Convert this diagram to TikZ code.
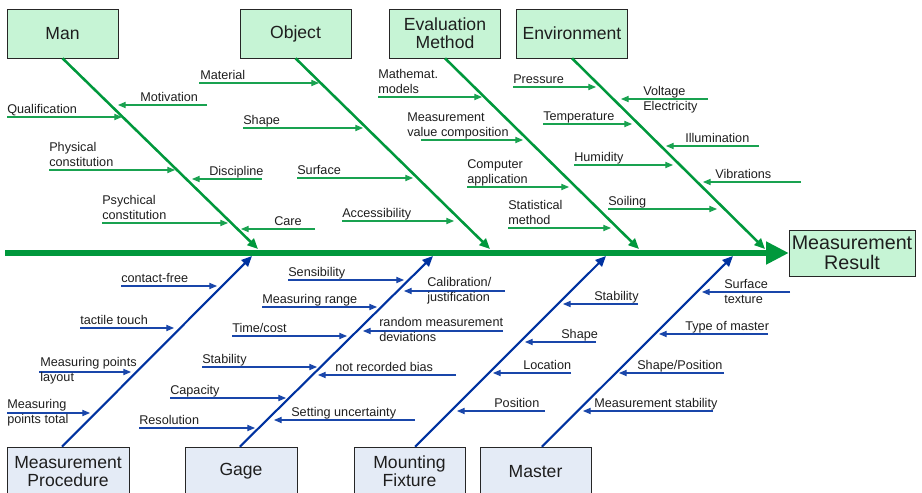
\documentclass[tikz,border=0pt]{standalone}
\usepackage{fontspec}
\setmainfont{Liberation Sans}
\usetikzlibrary{arrows.meta}

\definecolor{fishgreen}{RGB}{0,152,60}
\definecolor{fishblue}{RGB}{0,50,160}
\definecolor{topfill}{RGB}{198,244,213}
\definecolor{botfill}{RGB}{228,235,246}
\definecolor{txt}{RGB}{30,30,30}

\tikzset{
  topbox/.style={draw=black!85, fill=topfill, minimum width=2.775cm, minimum height=1.225cm,
    inner sep=1pt, align=center, text=txt, font=\fontsize{12.5}{12.8}\selectfont},
  botbox/.style={draw=black!85, fill=botfill, minimum width=2.775cm, minimum height=1.225cm,
    inner sep=1pt, align=center, text=txt, font=\fontsize{12.5}{12.8}\selectfont},
  spine/.style={fishgreen, line width=3.6pt, -{Triangle[length=16pt,width=15.5pt]}},
  gbone/.style={fishgreen, line width=1.8pt, -{Triangle[length=7.5pt,width=6.5pt]}},
  bbone/.style={fishblue, line width=1.5pt, -{Triangle[length=7.5pt,width=6.5pt]}},
  garr/.style={fishgreen!90!white, line width=0.75pt, -{Triangle[length=5.5pt,width=4.5pt]}},
  barr/.style={fishblue!90!white, line width=0.75pt, -{Triangle[length=5.5pt,width=4.5pt]}},
  lbl/.style={anchor=base west, inner sep=0pt, align=left, text=txt, font=\fontsize{9}{10.6}\selectfont}
}

\begin{document}
\begin{tikzpicture}[x=0.025cm, y=-0.025cm]
  \clip (0,0) rectangle (922,493);

  % effect and main categories
  \node[topbox, minimum width=3.15cm, minimum height=1.15cm, font=\fontsize{14}{14.2}\selectfont] (result) at (852,253) {Measurement\\Result};
  \node[topbox] (man) at (62.5,33.5) {Man};
  \node[topbox] (object) at (295.5,33.5) {Object};
  \node[topbox] (evalm) at (445,33.5) {Evaluation\\Method};
  \node[topbox] (environ) at (572,33.5) {Environment};
  \node[botbox, minimum width=3.05cm] (proc) at (68,471.5) {Measurement\\Procedure};
  \node[botbox, minimum width=2.8cm] (gage) at (241,471.5) {Gage};
  \node[botbox] (mount) at (409.5,471.5) {Mounting\\Fixture};
  \node[botbox] (master) at (535.5,471.5) {Master};

  % spine
  \coordinate (spine-s) at (5,253);
  \draw[spine] (spine-s) -- (result.west);

  % bones
  \coordinate (man-t) at (258,249);
  \coordinate (object-t) at (490,249);
  \coordinate (evalm-t) at (639,249);
  \coordinate (environ-t) at (765,249);
  \coordinate (proc-t) at (252,256);
  \coordinate (gage-t) at (433,256);
  \coordinate (mount-t) at (606,256);
  \coordinate (master-t) at (733,256);
  \draw[gbone] (man.south) -- (man-t);
  \draw[gbone] (object.south) -- (object-t);
  \draw[gbone] (evalm.south) -- (evalm-t);
  \draw[gbone] (environ.south) -- (environ-t);
  \draw[bbone] ([xshift=-0.15cm]proc.north) -- (proc-t);
  \draw[bbone] ([xshift=-0.03cm]gage.north) -- (gage-t);
  \draw[bbone] ([xshift=0.14cm]mount.north) -- (mount-t);
  \draw[bbone] ([xshift=0.16cm]master.north) -- (master-t);

  % Man
  \coordinate (qualif-s) at (7,117); \coordinate (qualif-t) at (122,117);
  \draw[garr] (qualif-s) -- (qualif-t); \node[lbl] (qualif) at (7,113) {Qualification};
  \coordinate (motiv-s) at (207,105); \coordinate (motiv-t) at (118,105);
  \draw[garr] (motiv-s) -- (motiv-t); \node[lbl] (motiv) at (140,101) {Motivation};
  \coordinate (physcon-s) at (49,170); \coordinate (physcon-t) at (175,170);
  \draw[garr] (physcon-s) -- (physcon-t); \node[lbl] (physcon) at (49,166) {Physical\\constitution};
  \coordinate (discip-s) at (262,179); \coordinate (discip-t) at (192,179);
  \draw[garr] (discip-s) -- (discip-t); \node[lbl] (discip) at (209,175) {Discipline};
  \coordinate (psycon-s) at (102,223); \coordinate (psycon-t) at (228,223);
  \draw[garr] (psycon-s) -- (psycon-t); \node[lbl] (psycon) at (102,219) {Psychical\\constitution};
  \coordinate (care-s) at (315,229); \coordinate (care-t) at (241,229);
  \draw[garr] (care-s) -- (care-t); \node[lbl] (care) at (274,225) {Care};

  % Object
  \coordinate (material-s) at (199,83); \coordinate (material-t) at (319,83);
  \draw[garr] (material-s) -- (material-t); \node[lbl] (material) at (200,79) {Material};
  \coordinate (oshape-s) at (243,128); \coordinate (oshape-t) at (363,128);
  \draw[garr] (oshape-s) -- (oshape-t); \node[lbl] (oshape) at (243,124) {Shape};
  \coordinate (surface-s) at (297,178); \coordinate (surface-t) at (413,178);
  \draw[garr] (surface-s) -- (surface-t); \node[lbl] (surface) at (297,174) {Surface};
  \coordinate (access-s) at (342,221); \coordinate (access-t) at (454,221);
  \draw[garr] (access-s) -- (access-t); \node[lbl] (access) at (342,217) {Accessibility};

  % Evaluation method
  \coordinate (mathmod-s) at (378,97); \coordinate (mathmod-t) at (482,97);
  \draw[garr] (mathmod-s) -- (mathmod-t); \node[lbl] (mathmod) at (378,93) {Mathemat.\\models};
  \coordinate (mvcomp-s) at (421,140); \coordinate (mvcomp-t) at (523,140);
  \draw[garr] (mvcomp-s) -- (mvcomp-t); \node[lbl] (mvcomp) at (407,136) {Measurement\\value composition};
  \coordinate (compapp-s) at (467,187); \coordinate (compapp-t) at (569,187);
  \draw[garr] (compapp-s) -- (compapp-t); \node[lbl] (compapp) at (467,183) {Computer\\application};
  \coordinate (statmeth-s) at (508,228); \coordinate (statmeth-t) at (611,228);
  \draw[garr] (statmeth-s) -- (statmeth-t); \node[lbl] (statmeth) at (508,224) {Statistical\\method};

  % Environment
  \coordinate (pressure-s) at (513,87); \coordinate (pressure-t) at (596,87);
  \draw[garr] (pressure-s) -- (pressure-t); \node[lbl] (pressure) at (513,83) {Pressure};
  \coordinate (voltage-s) at (708,99); \coordinate (voltage-t) at (621,99);
  \draw[garr] (voltage-s) -- (voltage-t); \node[lbl] (voltage) at (643,110) {Voltage\\Electricity};
  \coordinate (temp-s) at (543,124); \coordinate (temp-t) at (632,124);
  \draw[garr] (temp-s) -- (temp-t); \node[lbl] (temp) at (543,120) {Temperature};
  \coordinate (illum-s) at (759,146); \coordinate (illum-t) at (666,146);
  \draw[garr] (illum-s) -- (illum-t); \node[lbl] (illum) at (685,142) {Illumination};
  \coordinate (humid-s) at (574,165); \coordinate (humid-t) at (673,165);
  \draw[garr] (humid-s) -- (humid-t); \node[lbl] (humid) at (574,161) {Humidity};
  \coordinate (vibr-s) at (801,182); \coordinate (vibr-t) at (703,182);
  \draw[garr] (vibr-s) -- (vibr-t); \node[lbl] (vibr) at (715,178) {Vibrations};
  \coordinate (soiling-s) at (608,209); \coordinate (soiling-t) at (717,209);
  \draw[garr] (soiling-s) -- (soiling-t); \node[lbl] (soiling) at (608,205) {Soiling};

  % Measurement procedure
  \coordinate (contact-s) at (121,286); \coordinate (contact-t) at (217,286);
  \draw[barr] (contact-s) -- (contact-t); \node[lbl] (contact) at (121,282) {contact-free};
  \coordinate (tactile-s) at (80,328); \coordinate (tactile-t) at (174,328);
  \draw[barr] (tactile-s) -- (tactile-t); \node[lbl] (tactile) at (80,324) {tactile touch};
  \coordinate (mplayout-s) at (39,372); \coordinate (mplayout-t) at (131,372);
  \draw[barr] (mplayout-s) -- (mplayout-t); \node[lbl] (mplayout) at (40,381) {Measuring points\\layout};
  \coordinate (mptotal-s) at (7,413); \coordinate (mptotal-t) at (90,413);
  \draw[barr] (mptotal-s) -- (mptotal-t); \node[lbl] (mptotal) at (7,423) {Measuring\\points total};

  % Gage
  \coordinate (resol-s) at (139,428); \coordinate (resol-t) at (255,428);
  \draw[barr] (resol-s) -- (resol-t); \node[lbl] (resol) at (139,424) {Resolution};
  \coordinate (capac-s) at (170,398); \coordinate (capac-t) at (286,398);
  \draw[barr] (capac-s) -- (capac-t); \node[lbl] (capac) at (170,394) {Capacity};
  \coordinate (gstab-s) at (202,367); \coordinate (gstab-t) at (317,367);
  \draw[barr] (gstab-s) -- (gstab-t); \node[lbl] (gstab) at (202,363) {Stability};
  \coordinate (timecost-s) at (232,336); \coordinate (timecost-t) at (347,336);
  \draw[barr] (timecost-s) -- (timecost-t); \node[lbl] (timecost) at (232,332) {Time/cost};
  \coordinate (mrange-s) at (262,307); \coordinate (mrange-t) at (377,307);
  \draw[barr] (mrange-s) -- (mrange-t); \node[lbl] (mrange) at (262,303) {Measuring range};
  \coordinate (sensib-s) at (288,280); \coordinate (sensib-t) at (404,280);
  \draw[barr] (sensib-s) -- (sensib-t); \node[lbl] (sensib) at (288,276) {Sensibility};
  \coordinate (calib-s) at (505,291); \coordinate (calib-t) at (404,291);
  \draw[barr] (calib-s) -- (calib-t); \node[lbl] (calib) at (427,301) {Calibration/\\justification};
  \coordinate (random-s) at (503,331); \coordinate (random-t) at (363,331);
  \draw[barr] (random-s) -- (random-t); \node[lbl] (random) at (379,341) {random measurement\\deviations};
  \coordinate (notrec-s) at (456,375); \coordinate (notrec-t) at (318,375);
  \draw[barr] (notrec-s) -- (notrec-t); \node[lbl] (notrec) at (335,371) {not recorded bias};
  \coordinate (setunc-s) at (415,420); \coordinate (setunc-t) at (274,420);
  \draw[barr] (setunc-s) -- (setunc-t); \node[lbl] (setunc) at (291,416) {Setting uncertainty};

  % Mounting fixture
  \coordinate (mstab-s) at (638,304); \coordinate (mstab-t) at (563,304);
  \draw[barr] (mstab-s) -- (mstab-t); \node[lbl] (mstab) at (594,300) {Stability};
  \coordinate (mshape-s) at (596,342); \coordinate (mshape-t) at (525,342);
  \draw[barr] (mshape-s) -- (mshape-t); \node[lbl] (mshape) at (561,338) {Shape};
  \coordinate (location-s) at (571,373); \coordinate (location-t) at (493,373);
  \draw[barr] (location-s) -- (location-t); \node[lbl] (location) at (523,369) {Location};
  \coordinate (position-s) at (545,411); \coordinate (position-t) at (457,411);
  \draw[barr] (position-s) -- (position-t); \node[lbl] (position) at (494,407) {Position};

  % Master
  \coordinate (surftex-s) at (790,292); \coordinate (surftex-t) at (702,292);
  \draw[barr] (surftex-s) -- (surftex-t); \node[lbl] (surftex) at (724,303) {Surface\\texture};
  \coordinate (typemas-s) at (768,334); \coordinate (typemas-t) at (659,334);
  \draw[barr] (typemas-s) -- (typemas-t); \node[lbl] (typemas) at (685,330) {Type of master};
  \coordinate (shapepos-s) at (724,373); \coordinate (shapepos-t) at (619,373);
  \draw[barr] (shapepos-s) -- (shapepos-t); \node[lbl] (shapepos) at (637,369) {Shape/Position};
  \coordinate (measstab-s) at (713,411); \coordinate (measstab-t) at (583,411);
  \draw[barr] (measstab-s) -- (measstab-t); \node[lbl] (measstab) at (594,407) {Measurement stability};
\end{tikzpicture}
\end{document}
